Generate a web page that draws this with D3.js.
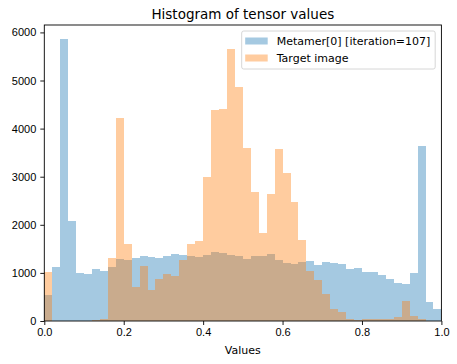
<!DOCTYPE html>
<html>
<head>
<meta charset="utf-8">
<script src="https://cdn.jsdelivr.net/npm/d3@7"></script>
<style>
  body { margin: 0; background: #fff; }
  svg { font-family: "DejaVu Sans", sans-serif; }
</style>
</head>
<body>
<div id="chart"></div>
<script>
// histogram range and number of bins (both series share the same bins)
var binRange = [0, 1];
var binCount = 50;

// counts per bin
var metamerCounts = [
  540, 1122, 5861, 2079, 998, 977, 1081, 1039, 1122, 1289,
  1268, 1309, 1351, 1330, 1309, 1351, 1393, 1372, 1351, 1330,
  1372, 1434, 1413, 1372, 1351, 1289, 1351, 1351, 1393, 1268,
  1205, 1185, 1226, 1247, 1164, 1226, 1205, 1185, 1088, 1108,
  1018, 1018, 956, 873, 790, 769, 998, 3637, 395, 249
];
var targetCounts = [
  1018, 0, 0, 0, 0, 0, 20, 40, 1309, 4219,
  1600, 707, 1143, 644, 873, 977, 935, 1268, 1600, 1663,
  3000, 4386, 4400, 5654, 4864, 3603, 2681, 1829, 2640, 3580,
  3076, 2473, 1684, 1039, 852, 561, 249, 187, 42, 20,
  42, 42, 42, 42, 83, 416, 104, 42, 0, 0
];
var seriesNames = ["Metamer[0] [iteration=107]", "Target image"];
var seriesColors = ["#1f77b4", "#ff7f0e"];
var xTicks = [0, 0.2, 0.4, 0.6, 0.8, 1.0];
var yTicks = [0, 1000, 2000, 3000, 4000, 5000, 6000];

// set the dimensions and margins of the graph
var margin = {top: 25, right: 15.6, bottom: 43, left: 44.3},
    width = 457 - margin.left - margin.right,
    height = 364 - margin.top - margin.bottom;

var svg = d3.select("#chart")
  .append("svg")
    .attr("width", 457)
    .attr("height", 364)
  .append("g")
    .attr("transform", "translate(" + margin.left + "," + margin.top + ")");

var binWidth = (binRange[1] - binRange[0]) / binCount;
var maxCount = d3.max(metamerCounts.concat(targetCounts));

var x = d3.scaleLinear().domain(binRange).range([0, width]);
var y = d3.scaleLinear().domain([0, maxCount * 1.05]).range([height, 0]);

// bars, one group per series
[metamerCounts, targetCounts].forEach(function(counts, s) {
  svg.append("g")
    .selectAll("rect")
    .data(counts)
    .enter()
    .append("rect")
      .attr("x", function(d, i) { return x(binRange[0] + i * binWidth); })
      .attr("width", function(d, i) { return x(binRange[0] + (i + 1) * binWidth) - x(binRange[0] + i * binWidth); })
      .attr("y", function(d) { return y(d); })
      .attr("height", function(d) { return height - y(d); })
      .attr("fill", seriesColors[s])
      .attr("fill-opacity", 0.4)
      .attr("shape-rendering", "crispEdges");
});

// axes
var xAxis = svg.append("g")
  .attr("transform", "translate(0," + height + ")")
  .call(d3.axisBottom(x).tickValues(xTicks).tickFormat(d3.format(".1f")).tickSize(4).tickPadding(3.5));
var yAxis = svg.append("g")
  .call(d3.axisLeft(y).tickValues(yTicks).tickFormat(d3.format("d")).tickSize(4).tickPadding(4));

[xAxis, yAxis].forEach(function(a) {
  a.select(".domain").remove();
  a.selectAll("line").attr("stroke", "#000").attr("stroke-width", 0.9);
  a.selectAll("text").attr("fill", "#000").style("font-size", "11px");
});

// frame
svg.append("rect")
  .attr("width", width)
  .attr("height", height)
  .attr("fill", "none")
  .attr("stroke", "#000")
  .attr("stroke-width", 0.9);

// title and x label
svg.append("text")
  .attr("x", width / 2)
  .attr("y", -6)
  .attr("text-anchor", "middle")
  .style("font-size", "13.5px")
  .text("Histogram of tensor values");

svg.append("text")
  .attr("x", width / 2)
  .attr("y", height + 32.5)
  .attr("text-anchor", "middle")
  .style("font-size", "11px")
  .text("Values");

// legend
var legend = svg.append("g")
  .attr("transform", "translate(" + (241.7 - margin.left) + "," + (31 - margin.top) + ")");
legend.append("rect")
  .attr("width", 193.5)
  .attr("height", 38)
  .attr("rx", 2)
  .attr("fill", "#fff")
  .attr("fill-opacity", 0.8)
  .attr("stroke", "#ccc")
  .attr("stroke-width", 0.8);

seriesNames.forEach(function(name, i) {
  legend.append("rect")
    .attr("x", 3.5)
    .attr("y", 6.5 + i * 17)
    .attr("width", 22.5)
    .attr("height", 7)
    .attr("fill", seriesColors[i])
    .attr("fill-opacity", 0.4);
  legend.append("text")
    .attr("x", 35)
    .attr("y", 13.8 + i * 17.3)
    .style("font-size", "11px")
    .text(name);
});
</script>
</body>
</html>
